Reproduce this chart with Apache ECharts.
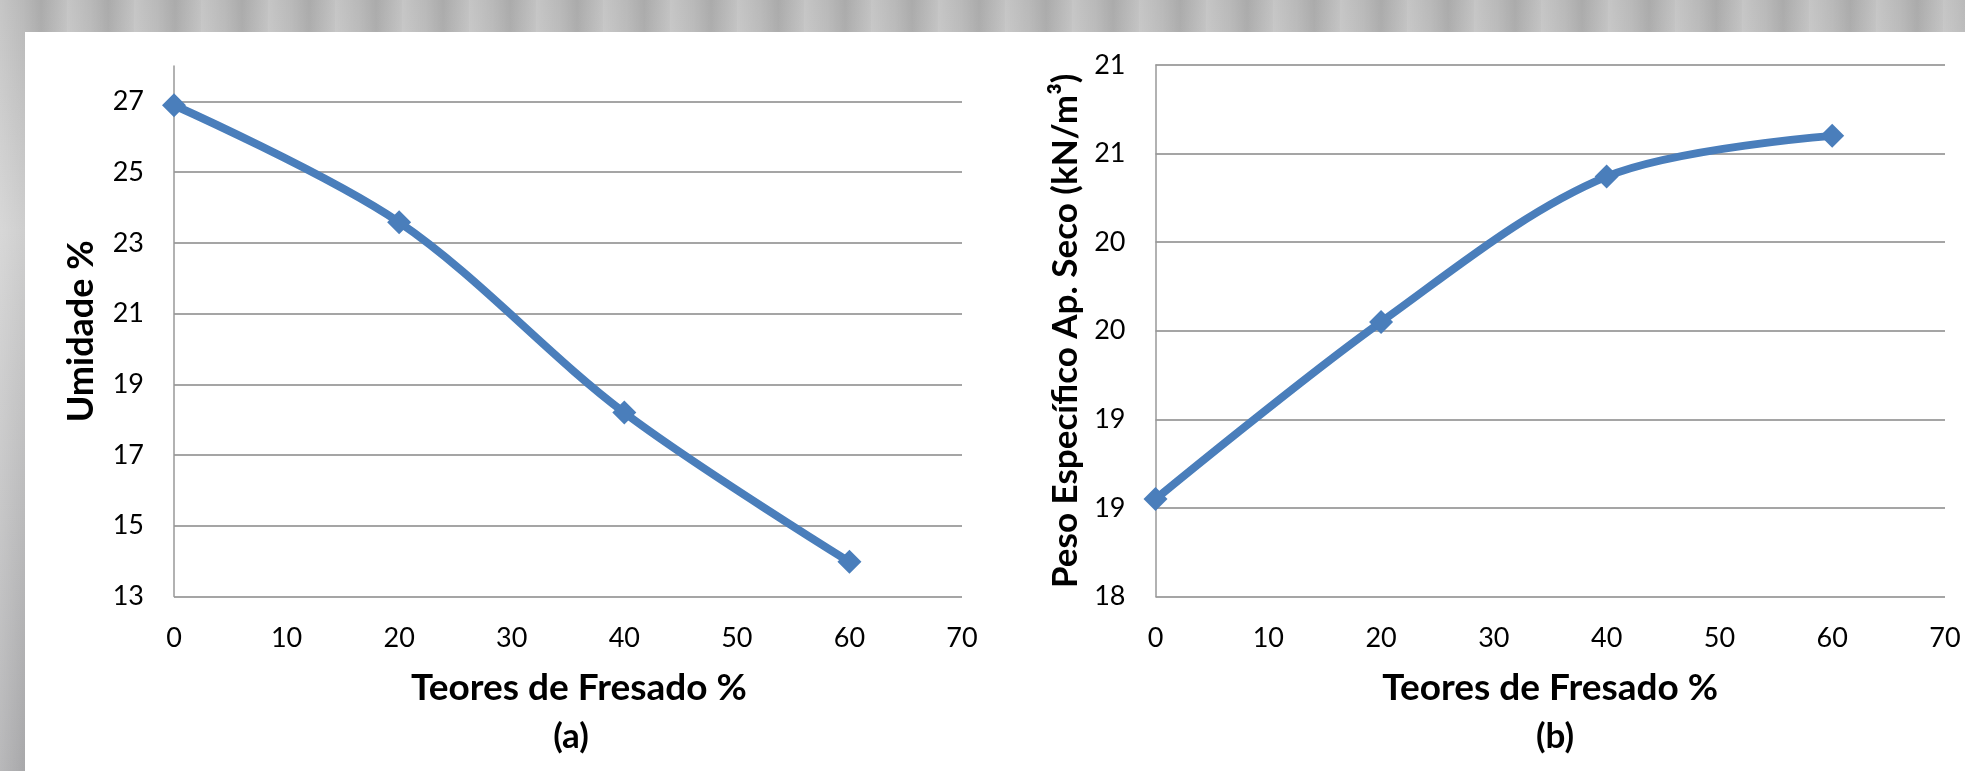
<!DOCTYPE html>
<html>
<head>
<meta charset="utf-8">
<script src="https://cdn.jsdelivr.net/npm/echarts@6/dist/echarts.min.js"></script>
<style>
  html, body { margin: 0; padding: 0; width: 1965px; height: 771px; overflow: hidden; }
  body {
    background:
      repeating-linear-gradient(90deg, rgba(255,255,255,0.18) 0px, rgba(255,255,255,0) 23px, rgba(0,0,0,0.08) 41px, rgba(255,255,255,0.12) 67px),
      linear-gradient(180deg, #b9b9b9 0%, #cfcfcf 30%, #a9a9ab 100%);
  }
  #panel { position: absolute; left: 25px; top: 32px; right: 0; bottom: 0; background: #ffffff; }
  #chart { position: absolute; left: 0; top: 0; width: 1965px; height: 771px; }
</style>
</head>
<body>
<div id="panel"></div>
<div id="chart"></div>
<script>
// ---- data ----
const teores = [0, 20, 40, 60];                 // Teores de Fresado %
const umidade = [26.89, 23.58, 18.2, 13.98];    // (a) Umidade %
const pesoEspecifico = [18.55, 19.55, 20.37, 20.6]; // (b) Peso Específico Ap. Seco (kN/m³)

const xTitle = 'Teores de Fresado %';
const yTitleA = 'Umidade %';
const yTitleB = 'Peso Específico Ap. Seco (kN/m³)';
const panelLabels = ['(a)', '(b)'];

const FONT = 'Lato, "Open Sans", sans-serif';
const BLUE = '#4a7ebb';
const GRID = '#a5a5a5';

const chart = echarts.init(document.getElementById('chart'), null, { renderer: 'canvas' });

const pairs = (xs, ys) => xs.map((x, i) => [x, ys[i]]);

function xAxisFor(gridIndex, padLeft) {
  return {
    gridIndex: gridIndex,
    type: 'value', min: 0, max: 70, interval: 10,
    name: xTitle, nameLocation: 'middle', nameGap: 73,
    nameTextStyle: { fontFamily: FONT, fontWeight: 'bold', fontSize: 37, color: '#000',
                     padding: [0, 0, 0, padLeft] },
    axisLine: { show: false },
    axisTick: { show: false },
    splitLine: { show: false },
    axisLabel: { fontFamily: FONT, fontSize: 27, color: '#000', margin: 28 }
  };
}

const option = {
  animation: false,
  title: [
    { text: panelLabels[0], left: 566, top: 714, textAlign: 'center',
      textStyle: { fontFamily: FONT, fontWeight: 'bold', fontSize: 35, color: '#000' } },
    { text: panelLabels[1], left: 1550, top: 714, textAlign: 'center',
      textStyle: { fontFamily: FONT, fontWeight: 'bold', fontSize: 35, color: '#000' } }
  ],
  grid: [
    { left: 174, right: 1003, top: 66, bottom: 174.5 },
    { left: 1155.5, right: 20, top: 65, bottom: 174.5 }
  ],
  xAxis: [ xAxisFor(0, 22), xAxisFor(1, 0) ],
  yAxis: [
    {
      gridIndex: 0, type: 'value', min: 13, max: 28, interval: 1,
      name: yTitleA, nameLocation: 'middle', nameGap: 75, nameRotate: 90,
      nameTextStyle: { fontFamily: FONT, fontWeight: 'bold', fontSize: 36, color: '#000' },
      axisLine: { show: true, lineStyle: { color: '#999', width: 1.5 } },
      axisTick: { show: false },
      splitLine: { show: true, lineStyle: { color: [GRID, 'rgba(0,0,0,0)'], width: 2 } },
      axisLabel: {
        fontFamily: FONT, fontSize: 27, color: '#000', margin: 30,
        formatter: v => (Math.round(v) % 2 === 1 && v < 28) ? String(Math.round(v)) : ''
      }
    },
    {
      gridIndex: 1, type: 'value', min: 18, max: 21, interval: 0.5,
      name: yTitleB, nameLocation: 'middle', nameGap: 72, nameRotate: 90,
      nameTextStyle: { fontFamily: FONT, fontWeight: 'bold', fontSize: 35, color: '#000' },
      axisLine: { show: true, lineStyle: { color: '#999', width: 1.5 } },
      axisTick: { show: false },
      splitLine: { show: true, lineStyle: { color: GRID, width: 2 } },
      axisLabel: {
        fontFamily: FONT, fontSize: 27, color: '#000', margin: 30,
        formatter: v => String(Math.round(v))
      }
    }
  ],
  series: [
    {
      type: 'line', xAxisIndex: 0, yAxisIndex: 0,
      data: pairs(teores, umidade),
      smooth: 0.33,
      symbol: 'diamond', symbolSize: 24,
      lineStyle: { color: BLUE, width: 8 },
      itemStyle: { color: BLUE }
    },
    {
      type: 'line', xAxisIndex: 1, yAxisIndex: 1,
      data: pairs(teores, pesoEspecifico),
      smooth: 0.33,
      symbol: 'diamond', symbolSize: 24,
      lineStyle: { color: BLUE, width: 8 },
      itemStyle: { color: BLUE }
    }
  ]
};

chart.setOption(option);
</script>
</body>
</html>
